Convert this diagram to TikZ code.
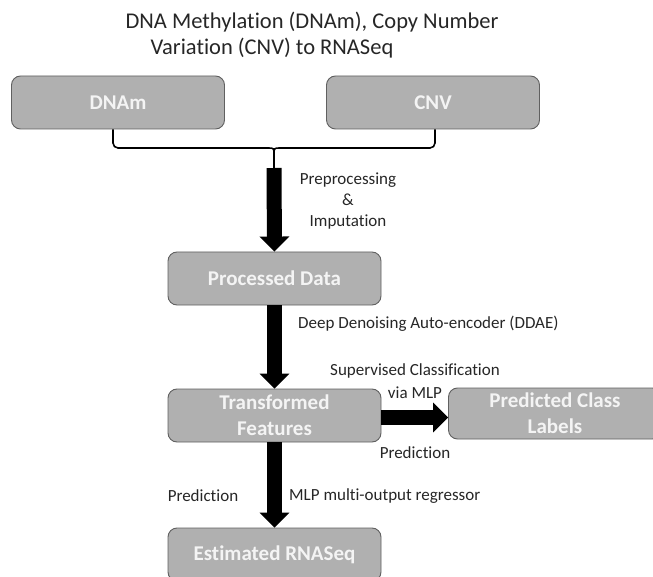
\documentclass[tikz,border=0pt]{standalone}
\usepackage{fontspec}
\setmainfont{Carlito}[Ligatures=NoCommon]
\usetikzlibrary{arrows.meta}
\definecolor{boxfill}{RGB}{176,176,176}
\definecolor{boxedge}{RGB}{96,96,96}
\definecolor{boxtext}{RGB}{244,244,244}
\definecolor{inktext}{RGB}{38,38,38}
\tikzset{box/.style = {draw=boxedge, line width=0.9pt, fill=boxfill, rounded corners=9pt,
                       minimum width=213pt, minimum height=53pt, inner sep=0,
                       text=boxtext, align=center,
                       font=\bfseries\fontsize{21}{26}\selectfont}}
\tikzset{fat/.style = {line width=15pt, -{Triangle[width=29pt, length=15pt]}}}
\tikzset{bracket/.style = {line width=1.6pt}}
\tikzset{note/.style = {text=inktext, inner sep=0, font=\fontsize{17}{21}\selectfont}}

\begin{document}
\begin{tikzpicture}[x=1pt, y=1pt]
    \path [use as bounding box, clip] (0, 0) rectangle (653, -577);

    \node [note, font=\fontsize{22.5}{26}\selectfont] (title) at (312, -22) {DNA Methylation (DNAm), Copy Number};
    \node [note, font=\fontsize{22.5}{26}\selectfont] (title2) at (272, -48) {Variation (CNV) to RNASeq};

    \node [box] (dnam) at (118, -102.5) {DNAm};
    \node [box] (cnv) at (433, -102.5) {CNV};
    \node [box] (proc) at (274.5, -278.5) {Processed Data};
    \node [box] (trans) at (274.5, -415.5) {Transformed\\Features};
    \node [box, minimum height=51pt] (pred) at (555, -413.5) {Predicted Class\\Labels};
    \node [box] (est) at (274.5, -554.5) {Estimated RNASeq};

    % joining bracket
    \coordinate (brace) at (274, -148);
    \coordinate (tip) at (274, -168);
    \draw [bracket, rounded corners=5pt] ([xshift=-5pt]dnam.south) |- ([xshift=-6pt]brace);
    \draw [bracket, rounded corners=5pt] ([xshift=2pt]cnv.south) |- ([xshift=6pt]brace);
    \draw [bracket] ([xshift=-6pt]brace) .. controls (brace) .. ([yshift=-7pt]brace)
                    .. controls (brace) .. ([xshift=6pt]brace);
    \draw [bracket] ([yshift=-7pt]brace) -- (tip);

    \draw [fat] (tip) -- (proc.north);
    \draw [fat] (proc.south) -- (trans.north);
    \draw [fat] ([yshift=-2pt]trans.east) -- ([yshift=-2pt]trans.east -| pred.west);
    \draw [fat] (trans.south) -- (est.north);

    \node [note, align=center] (prep) at (348, -201) {Preprocessing\\\&\\Imputation};
    \node [note, anchor=west] (ddae) at (298, -324) {Deep Denoising Auto-encoder (DDAE)};
    \node [note, align=center, font=\fontsize{17}{23}\selectfont] (svc) at (415, -381) {Supervised Classification\\via MLP};
    \node [note] (predr) at (415, -453) {Prediction};
    \node [note] (predl) at (203, -496) {Prediction};
    \node [note, anchor=west] (mlp) at (289, -496) {MLP multi-output regressor};
\end{tikzpicture}
\end{document}
